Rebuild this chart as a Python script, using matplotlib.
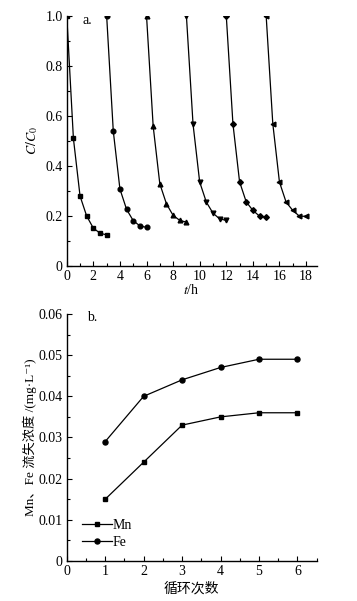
import matplotlib
matplotlib.use('Agg')
import matplotlib.pyplot as plt
from matplotlib.ticker import MultipleLocator

plt.rcParams['font.family'] = ['Liberation Serif', 'Noto Sans CJK SC', 'DejaVu Serif']
plt.rcParams['mathtext.fontset'] = 'stix'
plt.rcParams['font.size'] = 10

# panel a: C/C0 over six runs
t_runs = [
    [0, 0.5, 1.0, 1.5, 2.0, 2.5, 3.0],
    [3.0, 3.5, 4.0, 4.5, 5.0, 5.5, 6.0],
    [6.0, 6.5, 7.0, 7.5, 8.0, 8.5, 9.0],
    [9.0, 9.5, 10.0, 10.5, 11.0, 11.5, 12.0],
    [12.0, 12.5, 13.0, 13.5, 14.0, 14.5, 15.0],
    [15.0, 15.5, 16.0, 16.5, 17.0, 17.5, 18.0],
]
c_runs = [
    [1.0, 0.51, 0.28, 0.20, 0.152, 0.132, 0.125],
    [1.0, 0.539, 0.308, 0.227, 0.182, 0.161, 0.155],
    [1.0, 0.559, 0.329, 0.249, 0.203, 0.183, 0.176],
    [1.0, 0.567, 0.336, 0.256, 0.212, 0.189, 0.183],
    [1.0, 0.569, 0.337, 0.257, 0.223, 0.200, 0.195],
    [1.0, 0.569, 0.336, 0.256, 0.223, 0.200, 0.199],
]
markers = ['s', 'o', '^', 'v', 'D', '<']

# panel b: loss concentration
cycles = [1, 2, 3, 4, 5, 6]
mn = [0.015, 0.024, 0.033, 0.035, 0.036, 0.036]
fe = [0.029, 0.040, 0.044, 0.047, 0.049, 0.049]

fig = plt.figure(figsize=(3.57, 6.01), dpi=100)
ax1 = fig.add_axes([0.187, 0.557, 0.70, 0.417])
ax2 = fig.add_axes([0.187, 0.0666, 0.70, 0.411])

for i in range(len(t_runs)):
    ms = 2.9 if markers[i] == 'D' else 3.4
    ax1.plot(t_runs[i], c_runs[i], color='black', lw=0.9,
             marker=markers[i], ms=ms)

ax1.set_xlim(0, 18.8)
ax1.set_ylim(0, 1.0)
ax1.xaxis.set_major_locator(MultipleLocator(2))
ax1.xaxis.set_minor_locator(MultipleLocator(1))
ax1.yaxis.set_minor_locator(MultipleLocator(0.1))
ax1.set_yticks([0, 0.2, 0.4, 0.6, 0.8, 1.0])
ax1.set_yticklabels(['0', '0.2', '0.4', '0.6', '0.8', '1.0'])
ax1.set_xlabel(r'$t$/h', labelpad=0)
ax1.set_ylabel(r'$C/C_0$', labelpad=4)
ax1.text(0.081, 0.982, 'a.', transform=ax1.transAxes, ha='center', va='center')

ax2.plot(cycles, mn, color='black', lw=0.9, marker='s', ms=3.3, label='Mn')
ax2.plot(cycles, fe, color='black', lw=0.9, marker='o', ms=3.6, label='Fe')
ax2.set_xlim(0, 6.5)
ax2.set_ylim(0, 0.06)
ax2.xaxis.set_major_locator(MultipleLocator(1))
ax2.xaxis.set_minor_locator(MultipleLocator(0.5))
ax2.yaxis.set_minor_locator(MultipleLocator(0.005))
ax2.set_yticks([0, 0.01, 0.02, 0.03, 0.04, 0.05, 0.06])
ax2.set_yticklabels(['0', '0.01', '0.02', '0.03', '0.04', '0.05', '0.06'])
ax2.set_xlabel('循环次数', labelpad=3)
ax2.set_ylabel('Mn、Fe 流失浓度 /(mg·L⁻¹)', labelpad=1, fontsize=9.5)
ax2.text(0.1, 0.985, 'b.', transform=ax2.transAxes, ha='center', va='center')
ax2.legend(loc='lower left', bbox_to_anchor=(0.06, 0.05), frameon=False,
           handlelength=2.2, handletextpad=0.05, labelspacing=0.25,
           borderpad=0, borderaxespad=0)

for ax in (ax1, ax2):
    ax.spines['top'].set_visible(False)
    ax.spines['right'].set_visible(False)
    ax.tick_params(which='both', direction='in', top=False, right=False)
    ax.tick_params(which='major', length=3.5, width=0.8, pad=3)
    ax.tick_params(which='minor', length=2, width=0.8)
    for s in ax.spines.values():
        s.set_linewidth(1.0)

fig.savefig('out.png', dpi=100)
